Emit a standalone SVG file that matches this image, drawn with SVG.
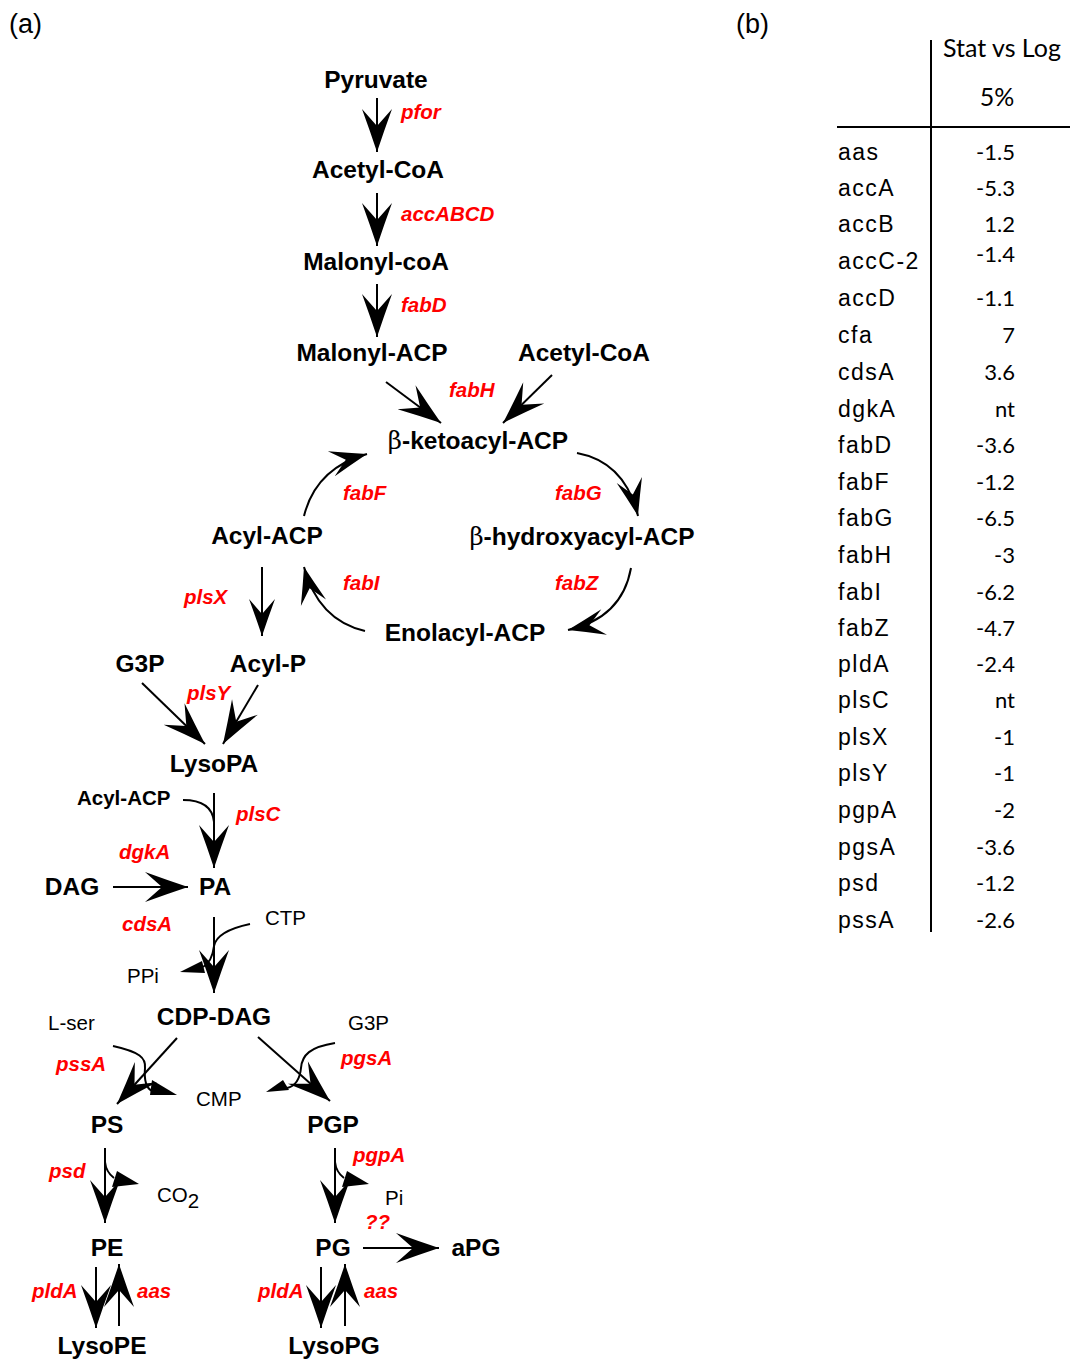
<svg xmlns="http://www.w3.org/2000/svg" width="1070" height="1361" viewBox="0 0 1070 1361">
  <style>
    .m { font-family: "Liberation Sans", Arial, sans-serif; font-weight: bold; font-size: 24.5px; fill: #000; text-anchor: middle; }
    .s { font-family: "Liberation Sans", Arial, sans-serif; font-weight: bold; font-size: 20.5px; fill: #000; }
    .r { font-family: "Liberation Sans", Arial, sans-serif; font-size: 20.5px; fill: #000; }
    .g { font-family: "Liberation Sans", Arial, sans-serif; font-weight: bold; font-style: italic; font-size: 20.5px; fill: #ff0000; }
    .p { font-family: "Liberation Sans", Arial, sans-serif; font-size: 27px; fill: #000; }
    .tn { font-family: "Liberation Sans", Arial, sans-serif; font-size: 23px; letter-spacing: 1.5px; fill: #000; }
    .tv { font-family: Lato, "Open Sans", sans-serif; font-size: 22px; fill: #000; text-anchor: end; }
    .th { font-family: Lato, "Open Sans", sans-serif; font-size: 25px; fill: #000; }
    .ln { fill: none; stroke: #000; stroke-width: 2; }
    .half { fill: #000; stroke: none; }
  </style>
  <defs>
    <marker id="ah" markerUnits="userSpaceOnUse" viewBox="-46 -17 48 34" refX="0" refY="0" markerWidth="48" markerHeight="34" orient="auto" overflow="visible">
      <path d="M0,0 Q-21,-7 -43,-15 L-26,0 L-43,15 Q-21,7 0,0 Z" fill="#000"/>
    </marker>
    <marker id="am" markerUnits="userSpaceOnUse" viewBox="-40 -15 42 30" refX="0" refY="0" markerWidth="42" markerHeight="30" orient="auto" overflow="visible">
      <path d="M0,0 Q-18,-6 -37,-13 L-22,0 L-37,13 Q-18,6 0,0 Z" fill="#000"/>
    </marker>
  </defs>

  <!-- panel labels -->
  <text class="p" x="9" y="33">(a)</text>
  <text class="p" x="736" y="33">(b)</text>

  <!-- metabolites -->
  <g id="pyruvate"><text class="m" x="376" y="88">Pyruvate</text></g>
  <g id="acetylcoa1"><text class="m" x="378" y="178">Acetyl-CoA</text></g>
  <g id="malonylcoa"><text class="m" x="376" y="270">Malonyl-coA</text></g>
  <g id="malonylacp"><text class="m" x="372" y="361">Malonyl-ACP</text></g>
  <g id="acetylcoa2"><text class="m" x="584" y="361">Acetyl-CoA</text></g>
  <g id="ketoacyl"><text class="m" x="478" y="449"><tspan font-family="'DejaVu Serif', serif" font-weight="normal">β</tspan>-ketoacyl-ACP</text></g>
  <g id="acylacp"><text class="m" x="267" y="544">Acyl-ACP</text></g>
  <g id="hydroxyacyl"><text class="m" x="582" y="545"><tspan font-family="'DejaVu Serif', serif" font-weight="normal">β</tspan>-hydroxyacyl-ACP</text></g>
  <g id="enolacyl"><text class="m" x="465" y="641">Enolacyl-ACP</text></g>
  <g id="g3p1"><text class="m" x="140" y="672">G3P</text></g>
  <g id="acylp"><text class="m" x="268" y="672">Acyl-P</text></g>
  <g id="lysopa"><text class="m" x="214" y="772">LysoPA</text></g>
  <g id="acylacp2"><text class="s" x="77" y="805">Acyl-ACP</text></g>
  <g id="dag"><text class="m" x="72" y="895">DAG</text></g>
  <g id="pa"><text class="m" x="215" y="895">PA</text></g>
  <g id="ctp"><text class="r" x="265" y="925">CTP</text></g>
  <g id="ppi"><text class="r" x="127" y="983">PPi</text></g>
  <g id="cdpdag"><text class="m" x="214" y="1025">CDP-DAG</text></g>
  <g id="lser"><text class="r" x="48" y="1030">L-ser</text></g>
  <g id="g3p2"><text class="r" x="348" y="1030">G3P</text></g>
  <g id="cmp"><text class="r" x="196" y="1106">CMP</text></g>
  <g id="ps"><text class="m" x="107" y="1133">PS</text></g>
  <g id="pgp"><text class="m" x="333" y="1133">PGP</text></g>
  <g id="co2"><text class="r" x="157" y="1202">CO<tspan dy="6">2</tspan></text></g>
  <g id="pi"><text class="r" x="385" y="1205">Pi</text></g>
  <g id="pe"><text class="m" x="107" y="1256">PE</text></g>
  <g id="pg"><text class="m" x="333" y="1256">PG</text></g>
  <g id="apg"><text class="m" x="476" y="1256">aPG</text></g>
  <g id="lysope"><text class="m" x="102" y="1354">LysoPE</text></g>
  <g id="lysopg"><text class="m" x="334" y="1354">LysoPG</text></g>

  <!-- enzyme labels -->
  <g id="enzymes">
    <text class="g" x="401" y="119">pfor</text>
    <text class="g" x="401" y="221">accABCD</text>
    <text class="g" x="401" y="312">fabD</text>
    <text class="g" x="449" y="397">fabH</text>
    <text class="g" x="343" y="500">fabF</text>
    <text class="g" x="555" y="500">fabG</text>
    <text class="g" x="343" y="590">fabI</text>
    <text class="g" x="555" y="590">fabZ</text>
    <text class="g" x="184" y="604">plsX</text>
    <text class="g" x="187" y="700">plsY</text>
    <text class="g" x="236" y="821">plsC</text>
    <text class="g" x="119" y="859">dgkA</text>
    <text class="g" x="122" y="931">cdsA</text>
    <text class="g" x="56" y="1071">pssA</text>
    <text class="g" x="341" y="1065">pgsA</text>
    <text class="g" x="49" y="1178">psd</text>
    <text class="g" x="353" y="1162">pgpA</text>
    <text class="g" x="365" y="1229">??</text>
    <text class="g" x="32" y="1298">pldA</text>
    <text class="g" x="137" y="1298">aas</text>
    <text class="g" x="258" y="1298">pldA</text>
    <text class="g" x="364" y="1298">aas</text>
  </g>

  <!-- reaction arrows -->
  <g id="connectors">
    <line class="ln" x1="377" y1="98" x2="377" y2="152" marker-end="url(#ah)"/>
    <line class="ln" x1="377" y1="193" x2="377" y2="246" marker-end="url(#ah)"/>
    <line class="ln" x1="377" y1="284" x2="377" y2="337" marker-end="url(#ah)"/>
    <line class="ln" x1="386" y1="382" x2="441" y2="423" marker-end="url(#ah)"/>
    <line class="ln" x1="552" y1="375" x2="503" y2="423" marker-end="url(#ah)"/>
    <path class="ln" d="M577,453 Q625,462 638,516" marker-end="url(#am)"/>
    <path class="ln" d="M631,568 Q622,618 568,630" marker-end="url(#am)"/>
    <path class="ln" d="M365,631 Q318,620 304,567" marker-end="url(#am)"/>
    <path class="ln" d="M304,516 Q316,468 367,454" marker-end="url(#am)"/>
    <line class="ln" x1="262" y1="567" x2="262" y2="636" marker-end="url(#am)"/>
    <line class="ln" x1="142" y1="683" x2="205" y2="744" marker-end="url(#ah)"/>
    <line class="ln" x1="258" y1="685" x2="223" y2="744" marker-end="url(#ah)"/>

    <!-- plsC with Acyl-ACP entering -->
    <line class="ln" x1="214" y1="793" x2="214" y2="868" marker-end="url(#ah)"/>
    <path class="ln" d="M183,800 Q212,800 214,822"/>

    <line class="ln" x1="113" y1="887" x2="188" y2="887" marker-end="url(#ah)"/>

    <!-- cdsA: CTP in, PPi out -->
    <line class="ln" x1="214" y1="917" x2="214" y2="993" marker-end="url(#ah)"/>
    <path class="ln" d="M250,924 Q217,931 214,946 Q212,962 203,967"/>
    <polygon class="half" points="180,972 202,961 205,973"/>

    <!-- pssA: L-ser in, CMP out -->
    <line class="ln" x1="177" y1="1038" x2="117" y2="1104" marker-end="url(#ah)"/>
    <path class="ln" d="M113,1046 C140,1052 146,1058 145,1068 C144,1080 146,1088 152,1091"/>
    <polygon class="half" points="152,1080 177,1095 150,1095"/>

    <!-- pgsA: G3P in, CMP out -->
    <line class="ln" x1="258" y1="1037" x2="330" y2="1101" marker-end="url(#ah)"/>
    <path class="ln" d="M335,1043 C310,1047 302,1055 301,1068 C300,1078 296,1086 287,1088"/>
    <polygon class="half" points="266,1092 283,1080 289,1090"/>

    <!-- psd: CO2 out -->
    <line class="ln" x1="105" y1="1148" x2="105" y2="1223" marker-end="url(#ah)"/>
    <path class="ln" d="M105,1162 Q106,1172 114,1178"/>
    <polygon class="half" points="117,1171 139,1184 112,1187"/>

    <!-- pgpA: Pi out -->
    <line class="ln" x1="335" y1="1148" x2="335" y2="1223" marker-end="url(#ah)"/>
    <path class="ln" d="M335,1162 Q336,1172 344,1178"/>
    <polygon class="half" points="347,1171 369,1184 342,1187"/>

    <line class="ln" x1="363" y1="1248" x2="439" y2="1248" marker-end="url(#ah)"/>

    <line class="ln" x1="96" y1="1267" x2="96" y2="1328" marker-end="url(#ah)"/>
    <line class="ln" x1="119" y1="1326" x2="119" y2="1264" marker-end="url(#ah)"/>
    <line class="ln" x1="321" y1="1267" x2="321" y2="1328" marker-end="url(#ah)"/>
    <line class="ln" x1="345" y1="1326" x2="345" y2="1264" marker-end="url(#ah)"/>
  </g>

  <!-- expression table -->
  <g id="table">
    <line class="ln" x1="931" y1="40" x2="931" y2="932"/>
    <line class="ln" x1="837" y1="127" x2="1070" y2="127"/>
    <text class="th" x="943" y="57">Stat vs Log</text>
    <text class="th" x="997" y="106" text-anchor="middle">5%</text>

    <text class="tn" x="838" y="160">aas</text><text class="tv" x="1015" y="160">-1.5</text>
    <text class="tn" x="838" y="196">accA</text><text class="tv" x="1015" y="196">-5.3</text>
    <text class="tn" x="838" y="232">accB</text><text class="tv" x="1015" y="232">1.2</text>
    <text class="tn" x="838" y="269">accC-2</text><text class="tv" x="1015" y="262">-1.4</text>
    <text class="tn" x="838" y="306">accD</text><text class="tv" x="1015" y="306">-1.1</text>
    <text class="tn" x="838" y="343">cfa</text><text class="tv" x="1015" y="343">7</text>
    <text class="tn" x="838" y="380">cdsA</text><text class="tv" x="1015" y="380">3.6</text>
    <text class="tn" x="838" y="417">dgkA</text><text class="tv" x="1015" y="417">nt</text>
    <text class="tn" x="838" y="453">fabD</text><text class="tv" x="1015" y="453">-3.6</text>
    <text class="tn" x="838" y="490">fabF</text><text class="tv" x="1015" y="490">-1.2</text>
    <text class="tn" x="838" y="526">fabG</text><text class="tv" x="1015" y="526">-6.5</text>
    <text class="tn" x="838" y="563">fabH</text><text class="tv" x="1015" y="563">-3</text>
    <text class="tn" x="838" y="600">fabI</text><text class="tv" x="1015" y="600">-6.2</text>
    <text class="tn" x="838" y="636">fabZ</text><text class="tv" x="1015" y="636">-4.7</text>
    <text class="tn" x="838" y="672">pldA</text><text class="tv" x="1015" y="672">-2.4</text>
    <text class="tn" x="838" y="708">plsC</text><text class="tv" x="1015" y="708">nt</text>
    <text class="tn" x="838" y="745">plsX</text><text class="tv" x="1015" y="745">-1</text>
    <text class="tn" x="838" y="781">plsY</text><text class="tv" x="1015" y="781">-1</text>
    <text class="tn" x="838" y="818">pgpA</text><text class="tv" x="1015" y="818">-2</text>
    <text class="tn" x="838" y="855">pgsA</text><text class="tv" x="1015" y="855">-3.6</text>
    <text class="tn" x="838" y="891">psd</text><text class="tv" x="1015" y="891">-1.2</text>
    <text class="tn" x="838" y="928">pssA</text><text class="tv" x="1015" y="928">-2.6</text>
  </g>
</svg>
